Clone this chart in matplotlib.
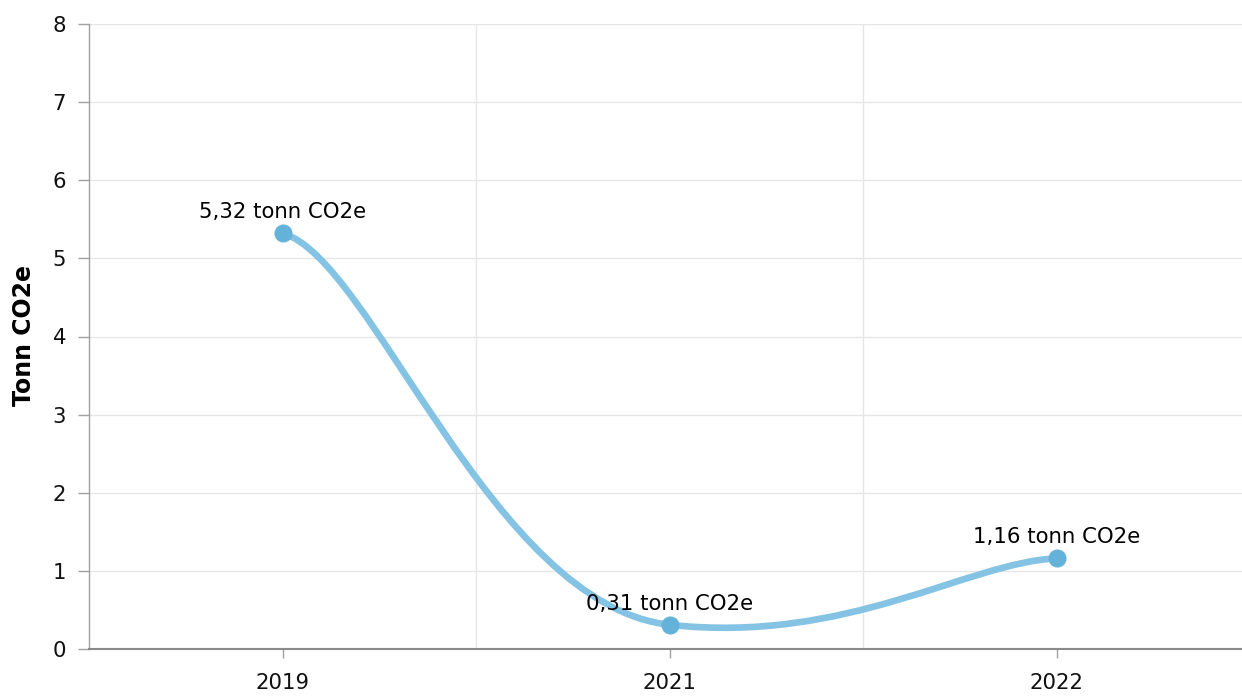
import matplotlib
matplotlib.use("Agg")
import matplotlib.pyplot as plt
from matplotlib.path import Path
from matplotlib.patches import PathPatch
import numpy as np

categories = ["2019", "2021", "2022"]
values = [5.32, 0.31, 1.16]
labels = ["5,32 tonn CO2e", "0,31 tonn CO2e", "1,16 tonn CO2e"]
y_ticks = [0, 1, 2, 3, 4, 5, 6, 7, 8]
y_label = "Tonn CO2e"

LINE = "#84c3e3"
MARK = "#64b2da"
GRID = "#e6e6e6"
AXIS = "#a0a0a0"
FS = 15.3

W, H = 1242, 696
fig = plt.figure(figsize=(W / 100, H / 100), dpi=100)
left_px, top_px, bottom_px = 89, 24, 649
cat_w = 387.0
ax = fig.add_axes([left_px / W, (H - bottom_px) / H, (W - left_px) / W, (bottom_px - top_px) / H])

xs = np.arange(len(categories), dtype=float)
ys = np.array(values, dtype=float)


def tension_path(x, y, tension_x=0.77, tension_y=0.94):
    """Cardinal-style smoothing with separate x / y tension (affine-invariant)."""
    tx = 1 - tension_x
    ty = 1 - tension_y
    pts = list(zip(x, y))
    n = len(pts)
    verts = [pts[0]]
    codes = [Path.MOVETO]
    for i in range(n - 1):
        p0 = pts[i - 1] if i > 0 else pts[i]
        p1 = pts[i]
        p2 = pts[i + 1]
        p3 = pts[i + 2] if i + 2 < n else pts[i + 1]
        a = (p1[0] + tx * (p2[0] - p0[0]), p1[1] + ty * (p2[1] - p0[1]))
        b = (p2[0] - tx * (p3[0] - p1[0]), p2[1] - ty * (p3[1] - p1[1]))
        verts += [a, b, p2]
        codes += [Path.CURVE4] * 3
    return Path(verts, codes)


# grid
for yt in y_ticks:
    ax.axhline(yt, color=GRID, lw=1, zorder=0)
for b in xs[:-1] + 0.5:
    ax.axvline(b, color=GRID, lw=1, zorder=0)

patch = PathPatch(tension_path(xs, ys), facecolor="none", edgecolor=LINE, lw=4.8,
                  capstyle="round", joinstyle="round", zorder=3)
ax.add_patch(patch)
ax.plot(xs, ys, linestyle="none", marker="o", markersize=13, color=MARK,
        markeredgewidth=0, zorder=4)

for xi, yi, lab in zip(xs, ys, labels):
    ax.annotate(lab, (xi, yi), xytext=(0, 11), textcoords="offset points",
                ha="center", va="baseline", fontsize=FS, color="#000000", zorder=5)

ax.set_xlim(-0.5, -0.5 + (W - left_px) / cat_w)
ax.set_ylim(0, 8)
ax.set_xticks(xs)
ax.set_xticklabels(categories)
ax.set_yticks(y_ticks)

for s in ["top", "right"]:
    ax.spines[s].set_visible(False)
ax.spines["left"].set_color(AXIS)
ax.spines["left"].set_linewidth(1)
ax.spines["bottom"].set_color("#8a8a8a")
ax.spines["bottom"].set_linewidth(1.5)

ax.tick_params(axis="y", length=8, width=1, color=AXIS, pad=8.5, labelsize=FS,
               labelcolor="#111111")
ax.tick_params(axis="x", length=6.5, width=1, color=AXIS, pad=11, labelsize=FS,
               labelcolor="#111111")

fig.text(24 / W, 1 - 335 / H, y_label, rotation=90, ha="center", va="center",
         fontsize=17, fontweight="bold", color="#000000")

fig.savefig("out.png", dpi=100)
